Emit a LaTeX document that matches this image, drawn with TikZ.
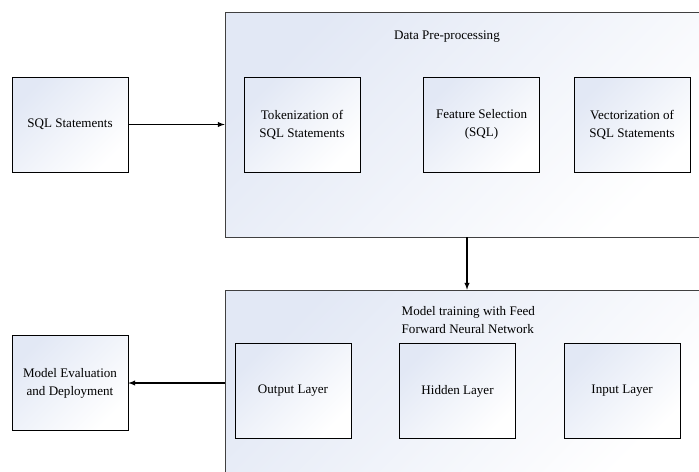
\documentclass[tikz,border=0pt]{standalone}
\usepackage{fontspec}
\setmainfont{Liberation Serif}
\usetikzlibrary{positioning, arrows}
\definecolor{boxtint}{RGB}{226,232,245}
\tikzstyle{stage} = [rectangle, minimum width=363pt, minimum height=168.75pt, draw=black!75, top color=boxtint, bottom color=white, shading angle=45]
\tikzstyle{block} = [rectangle, minimum width=87pt, minimum height=71.25pt, align=center, draw=black, top color=boxtint, bottom color=white, shading angle=45, font=\fontsize{9.8}{13.5}\selectfont]
\tikzstyle{arrow} = [thick,->,>=latex]

\begin{document}
\begin{tikzpicture}[x=0.75pt,y=-0.75pt,font=\fontsize{9.8}{13.5}\selectfont]
\useasboundingbox (0,0) rectangle (699,471);
\clip (0,0) rectangle (699,471);
\node (pre) [stage] at (467,124.5) {};
\node (train) [stage, minimum height=139.5pt] at (467,383) {};
\node (sql) [block] at (70,124.5) {SQL Statements};
\node (eval) [block] at (70,383) {Model Evaluation\\and Deployment};
\node (pretitle) at (447,37) {Data Pre-processing};
\node (traintitle) [anchor=north west, align=left] at (397,302) {Model training with Feed\\Forward Neural Network};
\node (tok) [block] at (302,124.5) {Tokenization of\\SQL Statements};
\node (feat) [block, right=47.25pt of tok] {Feature Selection\\(SQL)};
\node (vec) [block, right=25.5pt of feat] {Vectorization of\\SQL Statements};
\node (out) [block] at (293,391) {Output Layer};
\node (hidden) [block, right=36pt of out] {Hidden Layer};
\node (in) [block, right=36pt of hidden] {Input Layer};
\draw [arrow] (sql.east) -- (pre.west);
\draw [arrow] (pre.south) -- (train.north);
\draw [arrow] (train.west) -- (eval.east);
\end{tikzpicture}
\end{document}
